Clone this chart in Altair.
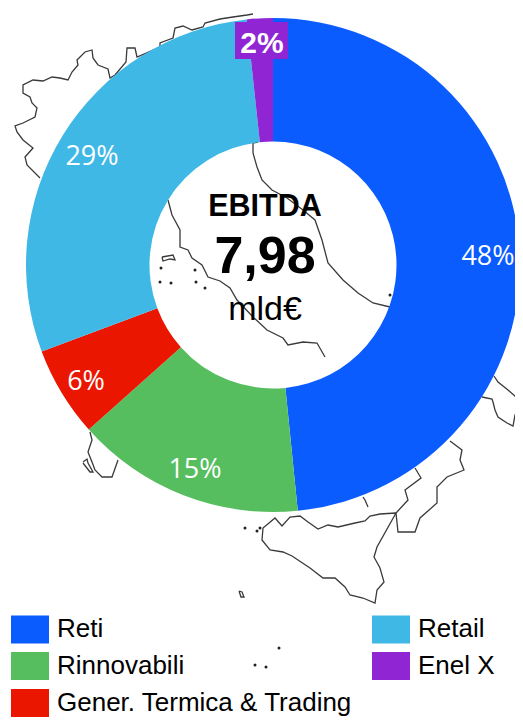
import altair as alt
import pandas as pd

# Donut values (%) and their printed labels
segments = ["Reti", "Rinnovabili", "Gener. Termica & Trading", "Retail", "Enel X"]
shares = [48.4, 15.0, 5.9, 29.0, 1.7]
colors = ["#0A5CFF", "#56BE5F", "#EA1600", "#3FB8E6", "#8F25D3"]

pct_labels = ["48%", "15%", "6%", "29%"]
pct_x = [488, 195, 86, 92]
pct_y = [265, 478, 390, 165]

# Background map outline (image pixels)
alps = [(253,14),(247,15),(233,17),(220,19),(205,23),(203,27),(192,30),(183,26),(175,28),(173,38),(160,43),(160,47),(137,57),(135,48),(127,48),(126,62),(115,75),(110,78),(108,69),(98,65),(93,58),(92,50),(85,52),(77,60),(78,65),(72,72),(68,80),(60,78),(52,77),(43,81),(33,80),(23,85),(23,93),(30,97),(32,103),(37,108),(35,117),(23,123),(15,126),(17,132),(23,140),(33,148),(25,157),(27,165),(40,178)]
adriatic = [(258,142),(253,143),(253,153),(257,167),(262,180),(272,190),(287,198),(303,210),(315,220),(322,240),(328,263),(343,280),(358,293),(373,303),(390,307)]
tyrrhenian = [(168,200),(172,215),(180,230),(180,247),(188,250),(192,258),(202,265),(208,277),(220,281),(230,288),(237,300),(253,317),(267,330),(283,338),(288,345),(303,342),(317,343),(325,357)]
elba = [(162,257),(173,255),(175,260),(170,259),(163,261),(162,257)]
puglia = [(494,376),(498,382),(508,390),(517,398),(519,407),(515,415),(513,426),(507,423),(498,417),(495,410),(493,402),(492,399),(482,397)]
calabria = [(450,441),(462,450),(460,460),(464,470),(447,477),(437,487),(437,503),(420,518),(415,532),(398,532),(396,513),(408,500),(405,490),(421,478),(415,468)]
sicily = [(396,513),(380,514),(370,516),(365,521),(355,523),(338,527),(328,525),(318,529),(308,522),(300,516),(290,517),(282,526),(275,518),(263,528),(262,540),(270,550),(283,552),(292,556),(310,568),(323,578),(335,578),(345,587),(350,595),(363,598),(375,603),(377,590),(384,582),(380,568),(374,557),(377,547),(396,513)]
stromboli = [(363,497),(365,500),(368,507)]
pantelleria = [(239,591),(242,592),(244,597),(241,597),(239,591)]
sardinia = [(90,432),(92,440),(88,452),(92,462),(95,470),(102,477),(112,477),(118,460)]
sant_antioco = [(83,462),(87,459),(88,463),(93,472),(90,472),(83,463)]
outlines = [alps, adriatic, tyrrhenian, elba, puglia, calabria, sicily, stromboli, pantelleria, sardinia, sant_antioco]

isle_x = [161,171,196,205,195,160,390,245,257,260,279,266,255]
isle_y = [268,283,282,288,270,282,295,528,531,528,648,667,665]

center_text = ["EBITDA", "7,98", "mld€"]
center_y = [216, 273, 320]
center_size = [30.5, 52, 34]
center_weight = ["bold", "bold", "normal"]

PLOT_W = 507
PLOT_H = 710
x_scale = alt.Scale(domain=[8, 8 + PLOT_W])
y_scale = alt.Scale(domain=[8 + PLOT_H, 8])
X = lambda f: alt.X(f, type="quantitative", scale=x_scale, axis=None)
Y = lambda f: alt.Y(f, type="quantitative", scale=y_scale, axis=None)

map_df = pd.DataFrame(
    [{"part": k, "i": i, "x": p[0], "y": p[1]} for k, line in enumerate(outlines) for i, p in enumerate(line)]
)
map_layer = alt.Chart(map_df).mark_line(color="#3A3A3A", strokeWidth=1.3, clip=True).encode(
    x=X("x"), y=Y("y"), detail="part:N", order="i:Q"
)
isles = alt.Chart(pd.DataFrame({"x": isle_x, "y": isle_y})).mark_circle(color="#222222", size=9, opacity=1).encode(
    x=X("x"), y=Y("y")
)

donut_df = pd.DataFrame({"segment": segments, "share": shares, "o": range(len(segments))})
donut = alt.Chart(donut_df).mark_arc(outerRadius=247, innerRadius=123.5).encode(
    theta=alt.Theta("share:Q", stack=True),
    order=alt.Order("o:Q"),
    x=alt.value(265),
    y=alt.value(257),
    color=alt.Color(
        "segment:N",
        scale=alt.Scale(domain=segments, range=colors),
        sort=segments,
        legend=alt.Legend(
            title=None,
            orient="none",
            legendX=3,
            legendY=602,
            columns=2,
            padding=0,
            values=segments,
            symbolType="M-1,-0.737H1V0.737H-1Z",
            symbolSize=1444,
            symbolStrokeWidth=0,
            symbolOpacity=1,
            labelFont="Liberation Sans",
            labelFontSize=26,
            labelColor="#000000",
            labelOffset=8,
            labelLimit=400,
            rowPadding=3,
            columnPadding=19,
            gridAlign="each",
        ),
    ),
)

pct = alt.Chart(pd.DataFrame({"t": pct_labels, "x": pct_x, "y": pct_y})).mark_text(
    font="Open Sans", fontSize=27, color="#FFFFFF", align="center", baseline="alphabetic"
).encode(x=X("x"), y=Y("y"), text="t:N")

box = alt.Chart(pd.DataFrame({"x": [235], "x2": [288], "y": [22], "y2": [59]})).mark_rect(color="#8F25D3").encode(
    x=X("x"), x2="x2", y=Y("y"), y2="y2"
)
two = alt.Chart(pd.DataFrame({"t": ["2%"], "x": [262], "y": [53]})).mark_text(
    font="Liberation Sans", fontWeight="bold", fontSize=30, color="#FFFFFF", align="center", baseline="alphabetic"
).encode(x=X("x"), y=Y("y"), text="t:N")

center_layers = [
    alt.Chart(pd.DataFrame({"t": [t], "x": [265], "y": [y]})).mark_text(
        font="Liberation Sans", fontSize=s, fontWeight=w, color="#000000", align="center", baseline="alphabetic"
    ).encode(x=X("x"), y=Y("y"), text="t:N")
    for t, y, s, w in zip(center_text, center_y, center_size, center_weight)
]

chart = alt.layer(map_layer, isles, donut, pct, box, two, *center_layers).properties(
    width=PLOT_W, height=PLOT_H, padding=0, autosize="none"
).configure_view(stroke=None)

chart.save("out.html", embed_options={"renderer": "svg", "actions": False})
